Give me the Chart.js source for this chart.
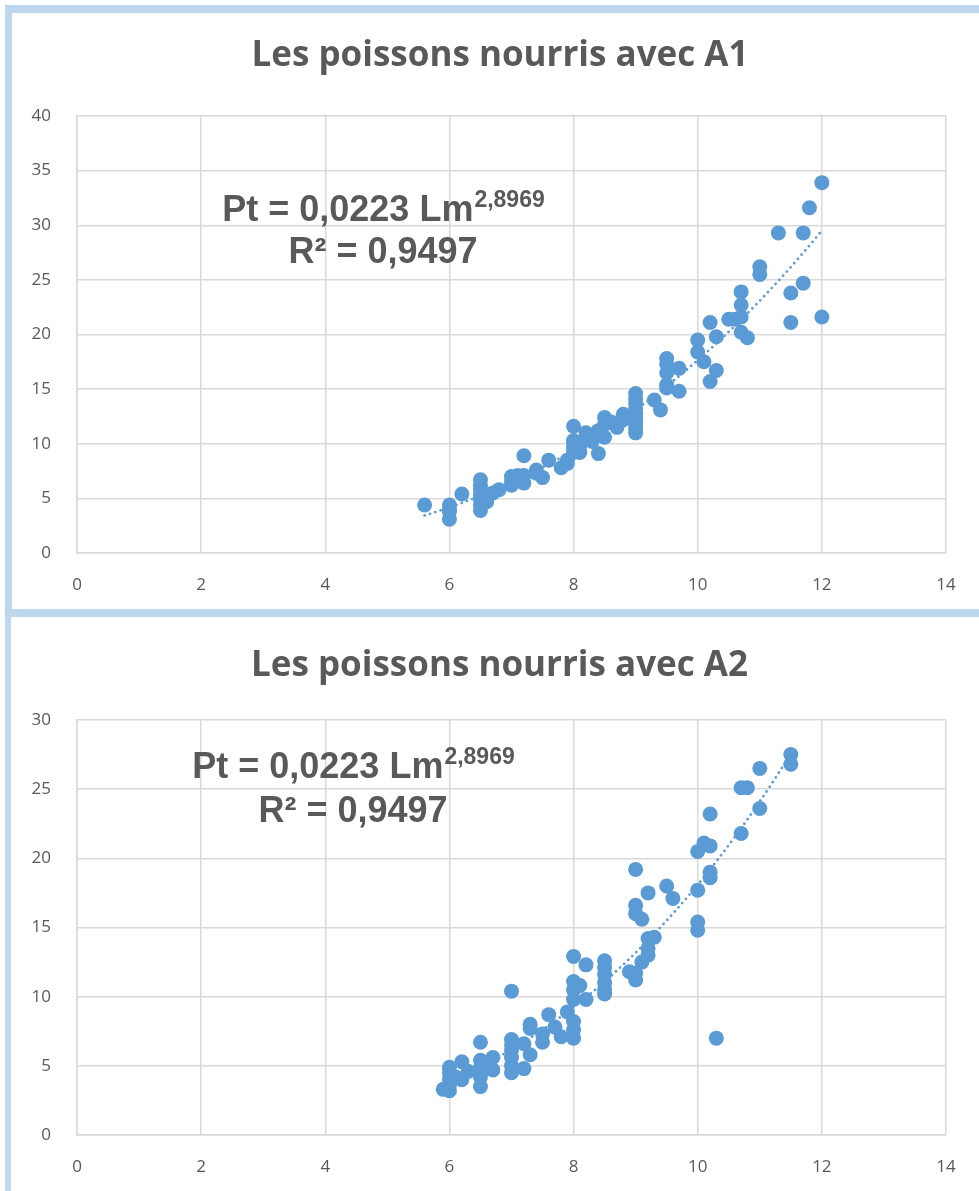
<!DOCTYPE html>
<html lang="fr">
<head>
<meta charset="utf-8">
<title>Les poissons nourris</title>
<script src="https://cdn.jsdelivr.net/npm/chart.js@4.4.1/dist/chart.umd.min.js"></script>
<style>
  html, body { margin: 0; padding: 0; background: #fff; }
  body { width: 979px; height: 1191px; position: relative; overflow: hidden; }
  .panel { position: absolute; box-sizing: border-box; border: 0 solid #bdd7ee; }
  #panelA1 { left: 5px; top: 5px; width: 974px; height: 604px; border-left-width: 7px; border-top-width: 8px; }
  #panelA2 { left: 5px; top: 609px; width: 974px; height: 582px; border-left-width: 6px; border-top-width: 8px; }
  canvas { display: block; }
</style>
</head>
<body>
<div class="panel" id="panelA1"><canvas id="graficoA1" width="967" height="596"></canvas></div>
<div class="panel" id="panelA2"><canvas id="graficoA2" width="968" height="574"></canvas></div>

<script>
// Longueur (Lm) et poids (Pt) - aliment A1
const lmA1 = [5.6, 6.0, 6.0, 6.0, 6.0, 6.2, 6.5, 6.5, 6.5, 6.5, 6.5, 6.5, 6.5, 6.6, 6.6, 6.7, 6.8,
    7.0, 7.0, 7.0, 7.1, 7.2, 7.2, 7.2, 7.4, 7.4, 7.5, 7.6, 7.8, 7.9, 7.9,
    8.0, 8.0, 8.0, 8.0, 8.0, 8.1, 8.1, 8.2, 8.2, 8.3, 8.4, 8.4, 8.5, 8.5, 8.5, 8.6, 8.7, 8.7, 8.8, 8.8,
    9.0, 9.0, 9.0, 9.0, 9.0, 9.0, 9.0, 9.0, 9.0, 9.3, 9.4, 9.5, 9.5, 9.5, 9.5, 9.5, 9.7, 9.7,
    10.0, 10.0, 10.1, 10.2, 10.2, 10.3, 10.3, 10.5, 10.6, 10.7, 10.7, 10.7, 10.7, 10.8,
    11.0, 11.0, 11.3, 11.5, 11.5, 11.7, 11.7, 11.8, 12.0, 12.0];
const ptA1 = [4.4, 4.4, 4.0, 3.8, 3.1, 5.4, 6.7, 6.2, 5.8, 5.3, 4.9, 4.4, 3.9, 4.7, 5.1, 5.5, 5.8,
    7.0, 6.6, 6.2, 7.1, 7.1, 6.4, 8.9, 7.6, 7.3, 6.9, 8.5, 7.8, 8.2, 8.5,
    11.6, 10.3, 10.0, 9.6, 9.2, 9.2, 9.8, 11.0, 10.5, 10.2, 9.1, 11.2, 12.4, 10.6, 11.8, 12.0, 11.5, 11.9, 12.7, 12.2,
    14.6, 14.1, 13.7, 13.2, 12.8, 12.3, 11.9, 11.4, 11.0, 14.0, 13.1, 17.8, 17.3, 16.5, 15.4, 15.1, 16.9, 14.8,
    19.5, 18.4, 17.5, 21.1, 15.7, 19.8, 16.7, 21.4, 21.4, 23.9, 22.7, 21.6, 20.2, 19.7,
    26.2, 25.5, 29.3, 23.8, 21.1, 29.3, 24.7, 31.6, 33.9, 21.6];

// Longueur (Lm) et poids (Pt) - aliment A2
const lmA2 = [5.9, 6.0, 6.0, 6.0, 6.0, 6.0, 6.1, 6.2, 6.2, 6.3, 6.5, 6.5, 6.5, 6.5, 6.5, 6.6, 6.7, 6.7,
    7.0, 7.0, 7.0, 7.0, 7.0, 7.0, 7.0, 7.2, 7.2, 7.3, 7.3, 7.3, 7.5, 7.5, 7.6, 7.7, 7.8, 7.9,
    8.0, 8.0, 8.0, 8.0, 8.0, 8.0, 8.0, 8.1, 8.2, 8.2, 8.5, 8.5, 8.5, 8.5, 8.5, 8.5, 8.9,
    9.0, 9.0, 9.0, 9.0, 9.0, 9.1, 9.1, 9.2, 9.2, 9.2, 9.2, 9.3, 9.5, 9.6,
    10.0, 10.0, 10.0, 10.0, 10.1, 10.2, 10.2, 10.2, 10.2, 10.3, 10.7, 10.7, 10.8, 11.0, 11.0, 11.5, 11.5];
const ptA2 = [3.3, 3.2, 3.6, 4.0, 4.5, 4.9, 4.2, 5.3, 4.0, 4.6, 6.7, 5.4, 4.9, 4.2, 3.5, 5.0, 5.6, 4.7,
    10.4, 6.9, 6.5, 6.1, 5.6, 5.0, 4.5, 6.6, 4.8, 8.0, 7.7, 5.8, 6.7, 7.3, 8.7, 7.8, 7.1, 8.9,
    12.9, 11.1, 10.5, 9.8, 8.2, 7.6, 7.0, 10.8, 12.3, 9.8, 12.6, 12.1, 11.6, 11.0, 10.5, 10.2, 11.8,
    19.2, 16.6, 16.0, 11.7, 11.2, 15.6, 12.5, 17.5, 14.2, 13.5, 13.0, 14.3, 18.0, 17.1,
    20.5, 17.7, 15.4, 14.8, 21.1, 23.2, 20.9, 19.0, 18.6, 7.0, 25.1, 21.8, 25.1, 26.5, 23.6, 27.5, 26.8];

// Axes
const ticksLm = [0, 2, 4, 6, 8, 10, 12, 14];
const ticksPtA1 = [0, 5, 10, 15, 20, 25, 30, 35, 40];
const ticksPtA2 = [0, 5, 10, 15, 20, 25, 30];

// Equation affichee (identique sur les deux graphiques)
const eqCoef = "0,0223";
const eqExp = "2,8969";
const eqR2 = "0,9497";

const bleu = "#5b9bd5";
const gris = "#595959";
const grille = "#d9d9d9";

// courbe de tendance puissance (moindres carres sur ln-ln, comme Excel)
function ajustementPuissance(xs, ys) {
    let n = xs.length, sx = 0, sy = 0, sxx = 0, sxy = 0;
    for (let i = 0; i < n; i++) {
        const lx = Math.log(xs[i]), ly = Math.log(ys[i]);
        sx += lx; sy += ly; sxx += lx * lx; sxy += lx * ly;
    }
    const b = (n * sxy - sx * sy) / (n * sxx - sx * sx);
    const a = Math.exp((sy - b * sx) / n);
    return { a, b };
}

function tendance(xs, ys) {
    const fit = ajustementPuissance(xs, ys);
    const lo = Math.min(...xs), hi = Math.max(...xs);
    const pts = [];
    for (let k = 0; k <= 60; k++) {
        const x = lo + (hi - lo) * k / 60;
        pts.push({ x: x, y: fit.a * Math.pow(x, fit.b) });
    }
    return pts;
}

// equation + decalage du titre (centre sur la zone du graphique comme Excel)
const equation = {
    id: "equation",
    afterLayout(chart, args, opts) {
        const t = chart.titleBlock;
        if (t) { t.left += opts.decalage; t.right += opts.decalage; }
    },
    afterDatasetsDraw(chart, args, opts) {
        const ctx = chart.ctx, area = chart.chartArea;
        const big = 'bold 36px "Liberation Sans", Arial, sans-serif';
        const small = 'bold 23px "Liberation Sans", Arial, sans-serif';
        const main = "Pt = " + eqCoef + " Lm";
        ctx.save();
        ctx.fillStyle = gris;
        ctx.textBaseline = "alphabetic";
        ctx.font = big;
        const w1 = ctx.measureText(main).width;
        ctx.font = small;
        const w2 = ctx.measureText(eqExp).width;
        const cx = area.left + opts.cx;
        const x0 = cx - (w1 + w2) / 2;
        ctx.textAlign = "left";
        ctx.font = big;
        ctx.fillText(main, x0, area.top + opts.y1);
        ctx.font = small;
        ctx.fillText(eqExp, x0 + w1 + 1, area.top + opts.y1 - 14);
        ctx.font = big;
        ctx.textAlign = "center";
        ctx.fillText("R² = " + eqR2, cx, area.top + opts.y2);
        ctx.restore();
    }
};

function graphique(id, titre, xs, ys, ticksY, eqPos, titrePad, largeurY) {
    const pts = xs.map((x, i) => ({ x: x, y: ys[i] }));
    return new Chart(document.getElementById(id), {
        type: "scatter",
        data: {
            datasets: [{
                data: pts,
                backgroundColor: bleu,
                borderColor: bleu,
                borderWidth: 0,
                pointRadius: 7.5,
                pointHoverRadius: 7.5,
                order: 2
            }, {
                type: "line",
                data: tendance(xs, ys),
                borderColor: bleu,
                borderWidth: 2.8,
                borderDash: [0, 5.6],
                borderCapStyle: "round",
                pointRadius: 0,
                fill: false,
                tension: 0,
                order: 1
            }]
        },
        options: {
            responsive: false,
            animation: false,
            layout: { padding: { left: 0, right: 33, top: 0, bottom: 0 } },
            plugins: {
                legend: { display: false },
                tooltip: { enabled: false },
                title: {
                    display: true,
                    text: titre,
                    color: gris,
                    font: { family: '"Open Sans", sans-serif', size: 35, weight: "bold", lineHeight: 1.2 },
                    padding: titrePad
                },
                equation: eqPos
            },
            scales: {
                x: {
                    type: "linear",
                    min: 0,
                    max: 14,
                    afterBuildTicks: (s) => { s.ticks = ticksLm.map(v => ({ value: v })); },
                    afterFit: (s) => { s.height = 56; },
                    grid: { color: grille, lineWidth: 1.5, drawTicks: false },
                    border: { color: grille, width: 1.5 },
                    ticks: { color: gris, padding: 22, font: { family: '"Open Sans", sans-serif', size: 17 } }
                },
                y: {
                    type: "linear",
                    min: 0,
                    max: ticksY[ticksY.length - 1],
                    afterBuildTicks: (s) => { s.ticks = ticksY.map(v => ({ value: v })); },
                    afterFit: (s) => { s.width = largeurY; },
                    grid: { color: grille, lineWidth: 1.5, drawTicks: false },
                    border: { color: grille, width: 1.5 },
                    ticks: { color: gris, padding: 26, font: { family: '"Open Sans", sans-serif', size: 17 } }
                }
            }
        },
        plugins: [equation]
    });
}

graphique("graficoA1", "Les poissons nourris avec A1", lmA1, ptA1, ticksPtA1,
    { cx: 306, y1: 105, y2: 147, decalage: 21 }, { top: 22, bottom: 39 }, 65);
graphique("graficoA2", "Les poissons nourris avec A2", lmA2, ptA2, ticksPtA2,
    { cx: 276, y1: 58, y2: 102, decalage: 21 }, { top: 28, bottom: 33 }, 66);
</script>
</body>
</html>
